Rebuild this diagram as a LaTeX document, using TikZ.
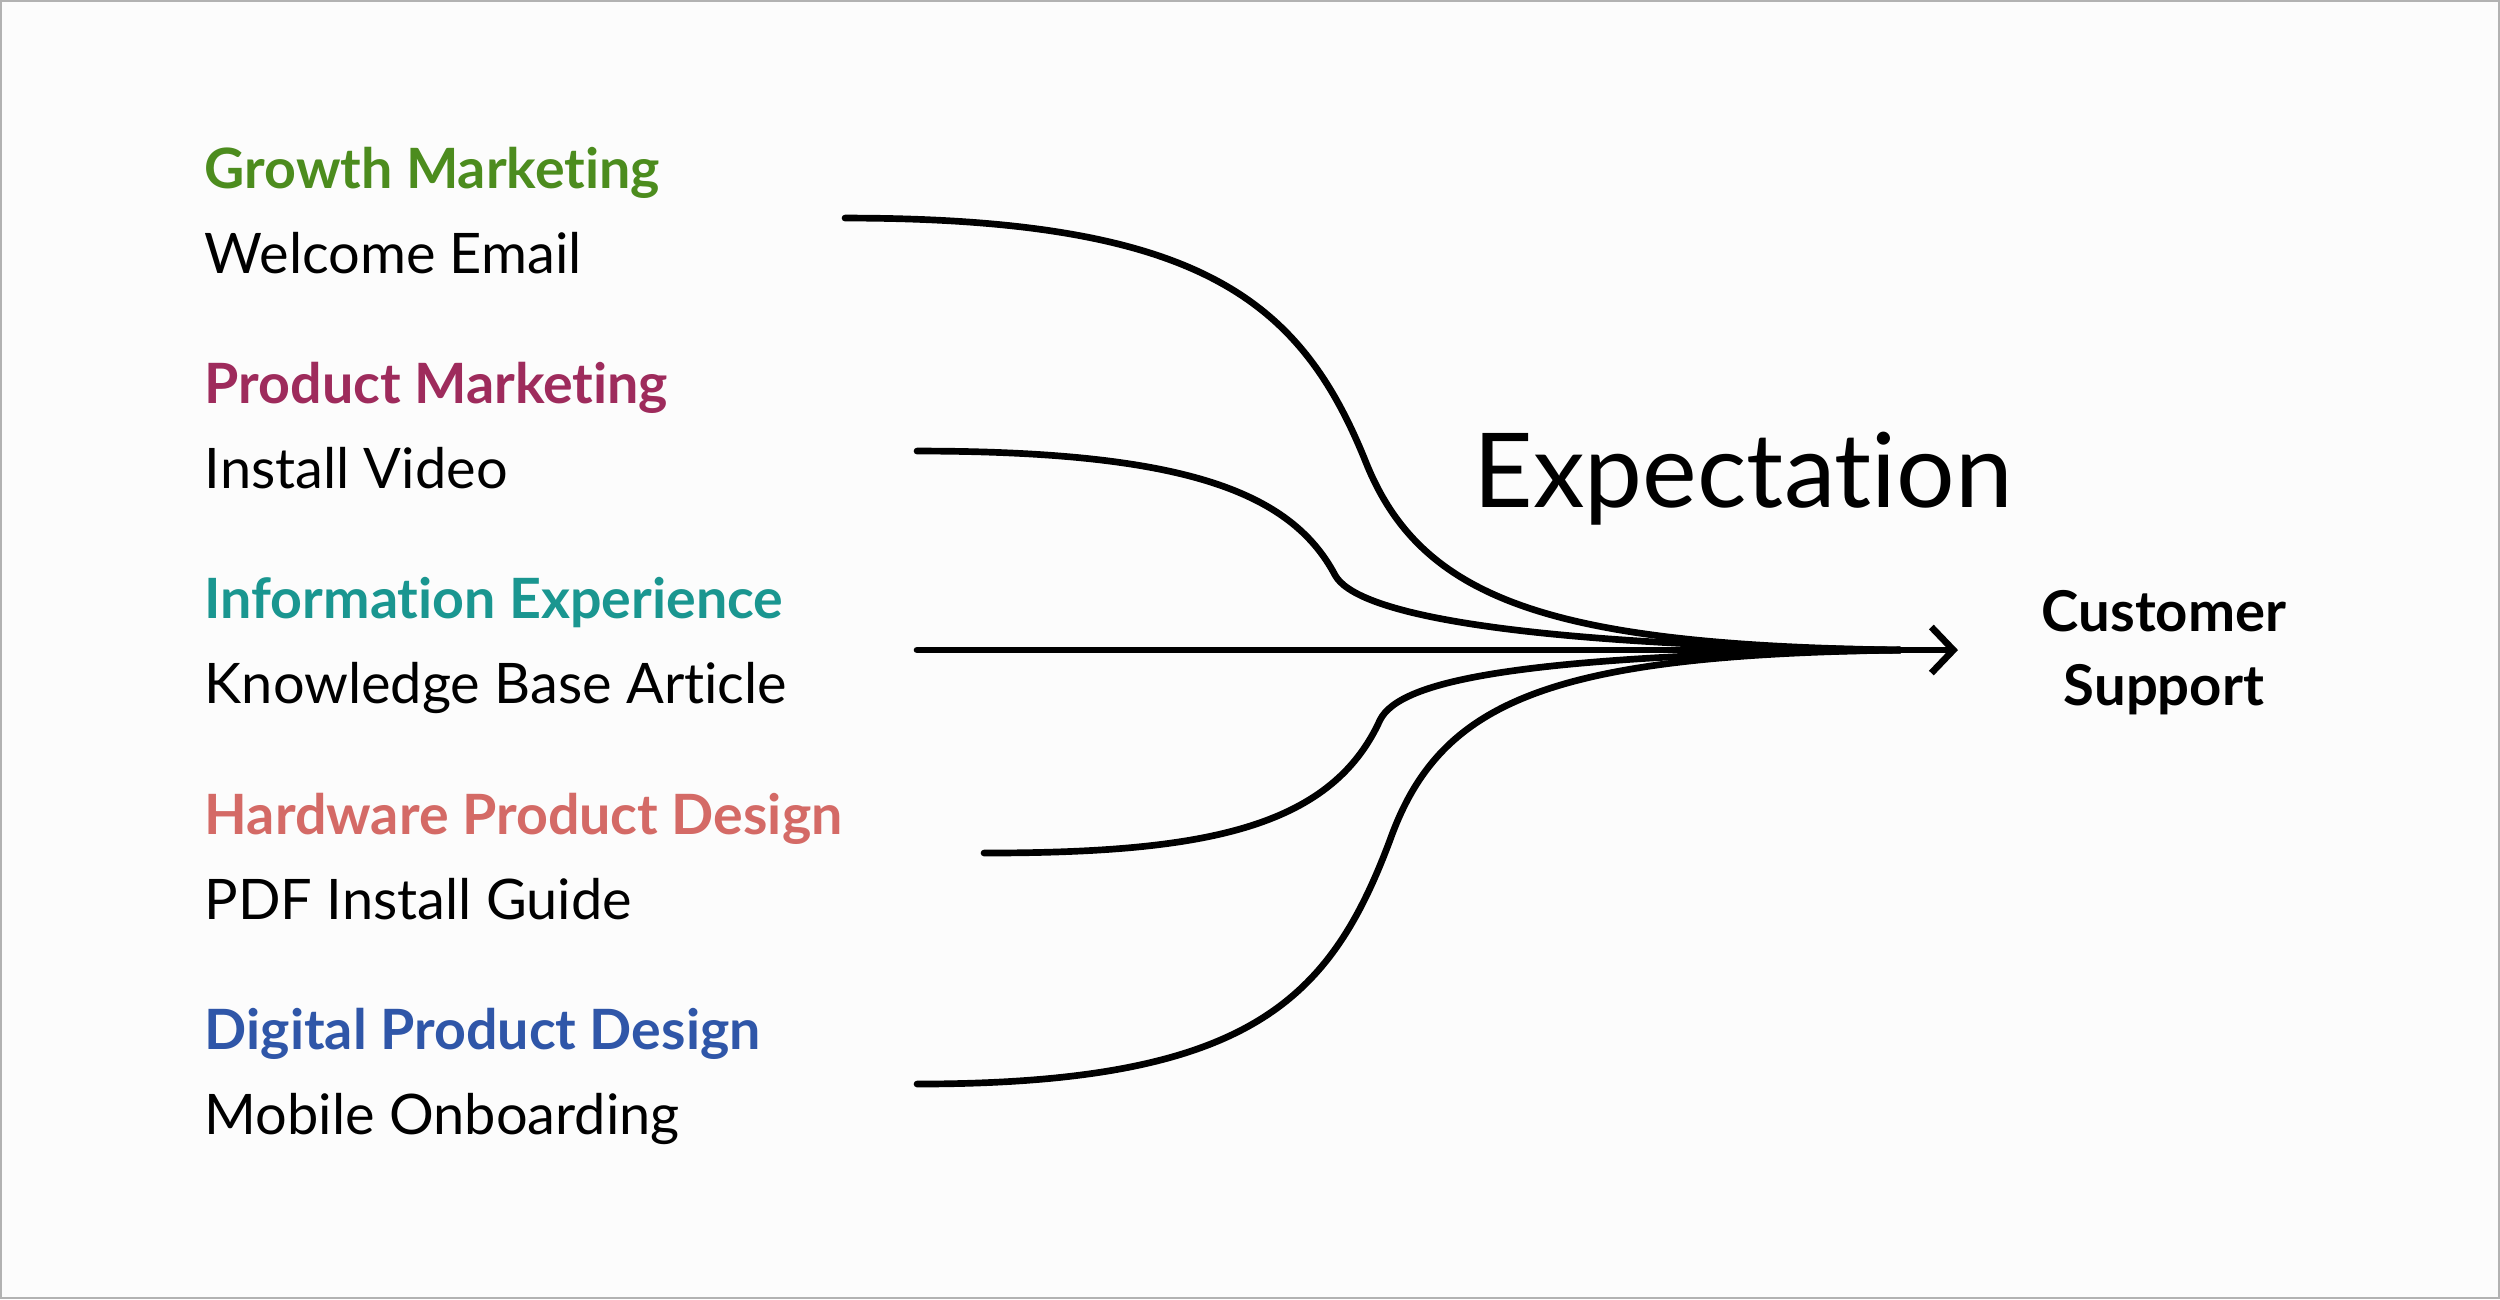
\documentclass[tikz,border=0pt]{standalone}
\usepackage{fontspec}
\setmainfont{Lato}[Ligatures={NoCommon}]
\usetikzlibrary{arrows.meta}
\definecolor{cgrowth}{HTML}{4C8C1E}
\definecolor{cprod}{HTML}{9E2B5C}
\definecolor{cinfo}{HTML}{1A9690}
\definecolor{chard}{HTML}{D46A66}
\definecolor{cdig}{HTML}{2F56A8}
\definecolor{bgc}{HTML}{FCFCFC}
\begin{document}
\begin{tikzpicture}[x=0.01cm,y=-0.01cm,
  title/.style={anchor=base west, inner sep=0pt, font=\fontsize{15.8}{18}\selectfont\bfseries},
  sub/.style={anchor=base west, inner sep=0pt, font=\fontsize{15.9}{18}\selectfont},
  flow/.style={line width=1.9pt, line cap=round, line join=round}]
\fill[bgc] (0,0) rectangle (2500,1299);
\draw[gray!60, line width=0.6pt] (1,1) rectangle (2499,1298);
\useasboundingbox (0,0) rectangle (2500,1299);
% labels
\node[title, text=cgrowth] (t1) at (204,188) {Growth Marketing};
\node[sub] (s1) at (204,273) {Welcome Email};
\node[title, text=cprod] (t2) at (204,403) {Product Marketing};
\node[sub] (s2) at (204,488) {Install Video};
\node[title, text=cinfo] (t3) at (204,618) {Information Experience};
\node[sub] (s3) at (204,703) {Knowledge Base Article};
\node[title, text=chard] (t4) at (204,834) {Hardware Product Design};
\node[sub] (s4) at (204,919) {PDF Install Guide};
\node[title, text=cdig] (t5) at (204,1049) {Digital Product Design};
\node[sub] (s5) at (204,1134) {Mobile Onboarding};
\node[anchor=base west, inner sep=0pt, font=\fontsize{29.4}{36}\selectfont] (ex) at (1473,507) {Expectation};
\node[anchor=base, inner sep=0pt, align=center, font=\fontsize{16}{20.8}\selectfont\bfseries] (cs) at (2164,705) {Customer\\Support};
% connectors
\coordinate (a1) at (845,218);
\coordinate (a2) at (917,451);
\coordinate (a3) at (917,650);
\coordinate (a4) at (984,853);
\coordinate (a5) at (917,1084);
\coordinate (m) at (1900,650);
\coordinate (tip) at (1958,650);
\draw[flow] (a1) .. controls (1200,218) and (1300,300) .. (1365,460)
  .. controls (1420,600) and (1550,645) .. (m);
\draw[flow] (a2) .. controls (1180,451) and (1290,490) .. (1335,575)
  .. controls (1355,612) and (1500,645) .. (m);
\draw[flow] (a4) .. controls (1200,853) and (1330,830) .. (1380,720)
  .. controls (1400,680) and (1520,655) .. (m);
\draw[flow] (a5) .. controls (1250,1084) and (1330,1000) .. (1390,840)
  .. controls (1440,700) and (1550,655) .. (m);
\draw[flow, -{Straight Barb[length=0.22cm, width=0.46cm]}] (a3) -- (tip);
\end{tikzpicture}
\end{document}
